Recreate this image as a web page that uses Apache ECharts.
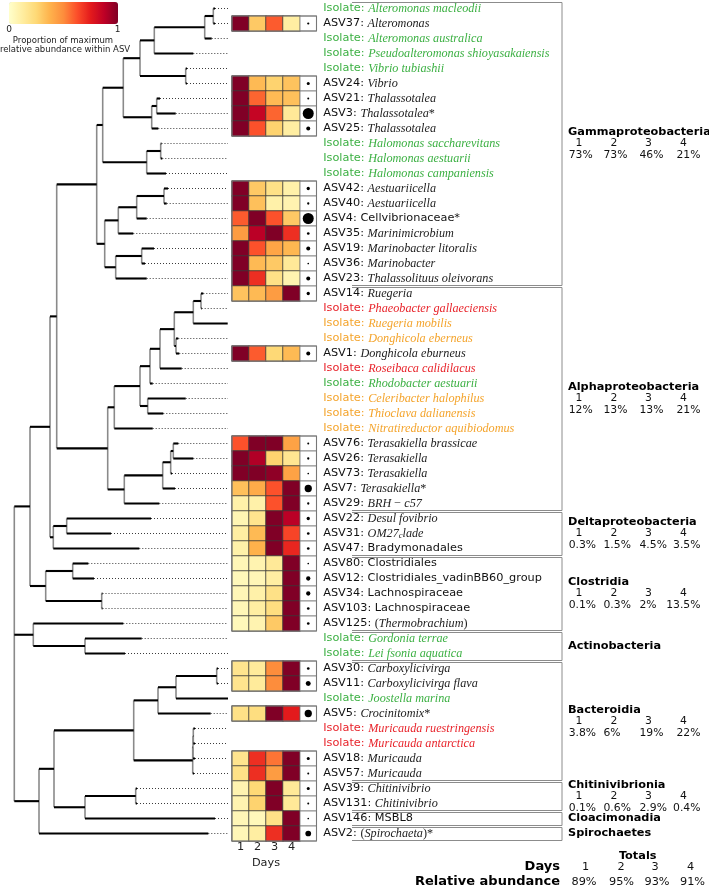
<!DOCTYPE html>
<html>
<head>
<meta charset="UTF-8">
<title></title>
<style>html,body{margin:0;padding:0;background:#fff;}</style>
</head>
<body>
<div id="chart" style="width:709px;height:888px;"></div>
<script src="https://cdn.jsdelivr.net/npm/echarts@6/dist/echarts.min.js"></script>
<script>
// ---- rows, top to bottom ----
var rowIds = ['Isolate','ASV37','Isolate','Isolate','Isolate','ASV24','ASV21','ASV3','ASV25','Isolate','Isolate','Isolate',
	'ASV42','ASV40','ASV4','ASV35','ASV19','ASV36','ASV23','ASV14','Isolate','Isolate','Isolate','ASV1','Isolate','Isolate',
	'Isolate','Isolate','Isolate','ASV76','ASV26','ASV73','ASV7','ASV29','ASV22','ASV31','ASV47','ASV80','ASV12','ASV34',
	'ASV103','ASV125','Isolate','Isolate','ASV30','ASV11','Isolate','ASV5','Isolate','Isolate','ASV18','ASV57','ASV39',
	'ASV131','ASV146','ASV2'];
var rowTaxa = ['Alteromonas macleodii','Alteromonas','Alteromonas australica','Pseudoalteromonas shioyasakaiensis',
	'Vibrio tubiashii','Vibrio','Thalassotalea','Thalassotalea*','Thalassotalea','Halomonas saccharevitans',
	'Halomonas aestuarii','Halomonas campaniensis','Aestuariicella','Aestuariicella','Cellvibrionaceae*','Marinimicrobium',
	'Marinobacter litoralis','Marinobacter','Thalassolituus oleivorans','Ruegeria','Phaeobacter gallaeciensis',
	'Ruegeria mobilis','Donghicola eberneus','Donghicola eburneus','Roseibaca calidilacus','Rhodobacter aestuarii',
	'Celeribacter halophilus','Thioclava dalianensis','Nitratireductor aquibiodomus','Terasakiella brassicae',
	'Terasakiella','Terasakiella','Terasakiella*','BRH \u2212 c57','Desul fovibrio','OM27_clade','Bradymonadales',
	'Clostridiales','Clostridiales_vadinBB60_group','Lachnospiraceae','Lachnospiraceae','(Thermobrachium)',
	'Gordonia terrae','Lei fsonia aquatica','Carboxylicivirga','Carboxylicivirga flava','Joostella marina',
	'Crocinitomix*','Muricauda ruestringensis','Muricauda antarctica','Muricauda','Muricauda','Chitinivibrio',
	'Chitinivibrio','MSBL8','(Spirochaeta)*'];
// k = ASV, g / r / o = isolate colour class
var rowKind = ['g','k','g','g','g', 'k','k','k','k', 'g','g','g', 'k','k','k','k','k','k','k','k',
	'r','o','o','k','r','g','o','o','o', 'k','k','k','k','k','k','k','k','k','k','k','k','k',
	'g','g','k','k','g','k','r','r', 'k','k','k','k','k','k'];
// names printed upright (not genus level)
var uprightTaxa = ['Cellvibrionaceae*','Bradymonadales','Clostridiales','Clostridiales_vadinBB60_group',
	'Lachnospiraceae','MSBL8'];

// ---- heatmap: proportion of max abundance per day (1..4), ASV order as in rows ----
var days = ['1','2','3','4'];
var asvHeat = [
	[1,0.3,0.6,0.12],[1,0.35,0.27,0.32],[1,0.58,0.35,0.33],[1,0.85,0.58,0.15],[1,0.62,0.27,0.12],
	[1,0.3,0.2,0.1],[1,0.33,0.1,0.08],[0.6,1,0.62,0.3],[0.45,0.88,1,0.7],[1,0.62,0.42,0.36],
	[1,0.35,0.3,0.15],[1,0.7,0.2,0.08],[0.32,0.35,0.45,1],[1,0.6,0.25,0.35],[0.62,1,1,0.43],
	[1,0.9,0.27,0.17],[1,1,0.97,0.43],[0.33,0.4,0.62,1],[0.1,0.1,0.62,1],[0.07,0.18,1,0.88],
	[0.12,0.35,1,0.65],[0.1,0.38,1,0.72],[0.06,0.08,0.15,1],[0.05,0.06,0.12,1],[0.06,0.1,0.2,1],
	[0.06,0.12,0.22,1],[0.05,0.08,0.3,1],[0.18,0.14,0.5,1],[0.18,0.14,0.5,1],[0.2,0.22,1,0.75],
	[0.18,0.7,0.55,1],[0.2,0.7,0.45,1],[0.08,0.25,1,0.15],[0.08,0.27,1,0.15],[0.06,0.05,0.2,1],
	[0.06,0.12,0.7,1]];
// mean relative abundance (%) -> dot size
var asvAbund = [0.5,0.94,0.42,12.6,1.66,1.1,0.55,12.6,0.76,1.66,0.3,1.66,1.1,1.66,0.42,0.55,0.3,5.5,0.55,1.1,
	0.76,0.76,0.3,1.9,1.9,0.76,0.76,0.76,2.6,5.5,0.94,0.42,0.94,0.42,0.3,3.4];

// ---- tree (newick, leaf name = row number) ----
var cladeGamma = '(((((((1:1.7,2:1.7):8.6,3:7):50.4,4:39):14.3,(5:1.3,6:1.3):45.7):16.7,((7:3.3,8:19):5,9:6.6):28.4):20.6,' +
	'((10:0.8,11:1.6):14,12:19.3):44):6,((((13:4,14:2.7):27.3,15:10):18.4,16:15):13.6,((17:12.3,18:3.3):26,19:31):11):8)';
var cladeAlpha = '((((((((20:2.3,21:0.7):7.7,22:34.4):19,(23:2.3,24:3.3):1.7):14.3,25:21.7):10,26:2.7):10,' +
	'(27:38,28:15.6):7.7):25.7,29:38.4):6.6,((((30:5,31:20):2.6,32:1.3):8,33:12.3):38.4,34:35):16.6)';
var cladeDelta = '((35:84.3,36:44.3):13.4,37:86)';
var cladeClostridia = '((38:15.6,39:21.3):27,(40:0.8,41:0.8):56)';
var cladeActino = '(42:90,(43:56.7,44:40):51.7)';
var cladeBact = '((((((45:1.3,46:1.3):40.7,47:52):18,48:52.7):24.3,(((49:1.7,50:1.7):0.3,51:2):0.3,52:1.3):59):79.7,' +
	'((53:1.3,54:1.3):50.7,55:130):31):15,56:169.3)';
var treeNewick = '((((' + cladeGamma + ':40,' + cladeAlpha + ':51):6.7,' + cladeDelta + ':3.3):20,' +
	cladeClostridia + ':15.7):15.7,' + cladeActino + ':19,' + cladeBact + ':24.7);';

// ---- class groups ----
var groupNames = ['Gammaproteobacteria','Alphaproteobacteria','Deltaproteobacteria','Clostridia','Actinobacteria',
	'Bacteroidia','Chitinivibrionia','Cloacimonadia','Spirochaetes'];
var groupFirst = [0,19,34,37,42,44,52,54,55];
var groupLast = [18,33,36,41,43,51,53,54,55];
var groupAbund = [[73,73,46,21],[12,13,13,21],[0.3,1.5,4.5,3.5],[0.1,0.3,2,13.5],null,[3.8,6,19,22],
	[0.1,0.6,2.9,0.4],null,null];
var totalAbund = [89,95,93,91];

var YlOrRd = ['#ffffcc','#ffeda0','#fed976','#feb24c','#fd8d3c','#fc4e2a','#e31a1c','#bd0026','#800026'];
var SANS = 'DejaVu Sans', SERIF = 'Liberation Serif';

// newick parser
function parseNewick(s) {
	var i = 0;
	function node() {
		var n = {children: [], len: 0, name: ''};
		if (s[i] === '(') {
			i++;
			n.children.push(node());
			while (s[i] === ',') { i++; n.children.push(node()); }
			i++;
		}
		var m = /^[^:,();]*/.exec(s.slice(i));
		n.name = m[0]; i += m[0].length;
		if (s[i] === ':') {
			i++;
			var m2 = /^[0-9.eE+-]+/.exec(s.slice(i));
			n.len = parseFloat(m2[0]); i += m2[0].length;
		}
		return n;
	}
	return node();
}

var tree = parseNewick(treeNewick);
var maxDepth = 0;
function place(n, px) {
	n.x = px + n.len;
	if (!n.children.length) {
		n.y = parseInt(n.name, 10) - 1;
	} else {
		n.children.forEach(function (c) { place(c, n.x); });
		n.y = (n.children[0].y + n.children[n.children.length - 1].y) / 2;
	}
	if (n.x > maxDepth) maxDepth = n.x;
}
place(tree, 0);

var segV = [], segH = [], segD = [];
function collect(n, parent) {
	if (parent) segH.push([parent.x, n.y, n.x, n.y]);
	if (n.children.length) {
		segV.push([n.x, n.children[0].y, n.x, n.children[n.children.length - 1].y]);
		n.children.forEach(function (c) { collect(c, n); });
	} else if (n.x < maxDepth - 0.5) {
		segD.push([n.x, n.y, maxDepth, n.y]);
	}
}
collect(tree, null);

// heatmap / dots data from the ASV rows
var heatData = [], dotData = [], asvRows = [];
var k = 0;
rowIds.forEach(function (id, r) {
	if (id.indexOf('ASV') === 0) {
		asvRows.push(r);
		asvHeat[k].forEach(function (v, d) { heatData.push([d, r, v]); });
		dotData.push([0, r, asvAbund[k]]);
		k++;
	}
});
// contiguous ASV blocks for the outlines
var blocks = [];
asvRows.forEach(function (r) {
	var b = blocks[blocks.length - 1];
	if (b && b[1] === r - 1) b[1] = r; else blocks.push([r, r]);
});

// rich row labels
var kindColor = {k: '#111', g: '#3cb043', r: '#e8242b', o: '#f4a42c'};
var rich = {};
Object.keys(kindColor).forEach(function (c) {
	var col = kindColor[c];
	rich[c + 's'] = {fontFamily: SANS, fontSize: 11.3, color: col, lineHeight: 14};
	rich[c + 'i'] = {fontFamily: SERIF, fontStyle: 'italic', fontSize: 12.2, color: col === '#111' ? '#222' : col, lineHeight: 14};
	rich[c + 'u'] = {fontFamily: SERIF, fontSize: 12.2, color: col === '#111' ? '#222' : col, lineHeight: 14};
	rich[c + 'b'] = {fontFamily: SERIF, fontStyle: 'italic', fontSize: 8.5, color: col === '#111' ? '#222' : col,
		lineHeight: 14, verticalAlign: 'bottom', padding: [6, 0, 0, 0]};
});
function rowLabel(i) {
	var c = rowKind[i], tx = rowTaxa[i];
	var out = '{' + c + 's|' + rowIds[i] + ': }';
	if (uprightTaxa.indexOf(tx) >= 0) return out + '{' + c + 's|' + tx + '}';
	var runs = [];
	for (var j = 0; j < tx.length; j++) {
		var ch = tx[j], st = 'i';
		if ('()*\u2212'.indexOf(ch) >= 0) st = 'u';
		else if (ch === '_') { j++; ch = tx[j]; st = 'b'; }
		var last = runs[runs.length - 1];
		if (last && last.s === st) last.t += ch; else runs.push({s: st, t: ch});
	}
	runs.forEach(function (r) { out += '{' + c + r.s + '|' + r.t + '}'; });
	return out;
}
var rowCats = rowIds.map(function (d, i) { return 'r' + i; });

var chart = echarts.init(document.getElementById('chart'), null, {renderer: 'canvas'});

function segSeries(data, style, z) {
	return {
		type: 'custom', xAxisIndex: 0, yAxisIndex: 0, z: z, silent: true,
		encode: {x: [0, 2], y: [1, 3]},
		data: data,
		renderItem: function (params, api) {
			var a = api.coord([api.value(0), api.value(1)]);
			var b = api.coord([api.value(2), api.value(3)]);
			return {type: 'line', shape: {x1: a[0], y1: a[1], x2: b[0], y2: b[1]}, style: style};
		}
	};
}

var BOX_L = 352, BOX_R = 562, DOT_W = 16.5;
var numX = [579, 614, 648.5, 683.5];

chart.setOption({
	animation: false,
	grid: [
		{left: 14.3, top: 1, width: maxDepth, height: 840},
		{left: 232, top: 1, width: 68, height: 840},
		{left: 300, top: 1, width: DOT_W, height: 840}
	],
	xAxis: [
		{gridIndex: 0, type: 'value', min: 0, max: maxDepth, show: false},
		{gridIndex: 1, type: 'category', data: days, position: 'bottom',
			axisLine: {show: false}, axisTick: {show: false}, splitLine: {show: false},
			axisLabel: {fontFamily: SANS, fontSize: 11.3, color: '#222', margin: 1},
			name: 'Days', nameLocation: 'middle', nameGap: 14,
			nameTextStyle: {fontFamily: SANS, fontSize: 11.3, color: '#222'}},
		{gridIndex: 2, type: 'category', data: [''], show: false}
	],
	yAxis: [
		{gridIndex: 0, type: 'value', min: -0.5, max: 55.5, inverse: true, show: false},
		{gridIndex: 1, type: 'category', data: rowCats, inverse: true, show: false},
		{gridIndex: 2, type: 'category', data: rowCats, inverse: true, position: 'right',
			axisLine: {show: false}, axisTick: {show: false}, splitLine: {show: false},
			axisLabel: {interval: 0, margin: 6.7, hideOverlap: false, rich: rich,
				formatter: function (v) { return rowLabel(parseInt(v.slice(1), 10)); }}}
	],
	visualMap: {
		type: 'continuous', min: 0, max: 1, seriesIndex: 3, orient: 'horizontal',
		left: 9, top: 2, itemWidth: 22, itemHeight: 109, padding: 0,
		calculable: false, hoverLink: false, realtime: false, showLabel: false,
		inRange: {color: YlOrRd}
	},
	series: [
		segSeries(segV, {stroke: '#8a8a8a', lineWidth: 1.6}, 2),
		segSeries(segH, {stroke: '#000', lineWidth: 2.1}, 3),
		segSeries(segD, {stroke: '#3c3c3c', lineWidth: 1, lineDash: [1, 2]}, 2),
		{
			type: 'heatmap', xAxisIndex: 1, yAxisIndex: 1, data: heatData, z: 2, silent: true,
			itemStyle: {borderColor: '#3a3a3a', borderWidth: 0.8},
			emphasis: {disabled: true}
		},
		{
			// white cell of the dot column
			type: 'custom', xAxisIndex: 2, yAxisIndex: 2, z: 3, silent: true,
			data: dotData.map(function (d) { return [d[0], d[1]]; }),
			encode: {x: 0, y: 1},
			renderItem: function (params, api) {
				var c = api.coord([0, api.value(1)]);
				var s = api.size([1, 1]);
				return {type: 'rect', shape: {x: c[0] - s[0] / 2, y: c[1] - s[1] / 2, width: s[0], height: s[1]},
					style: {fill: '#fff', stroke: '#7a7a7a', lineWidth: 0.8}};
			}
		},
		{
			type: 'scatter', xAxisIndex: 2, yAxisIndex: 2, z: 5, silent: true,
			data: dotData,
			symbolSize: function (v) { return 3.1 * Math.sqrt(v[2]); },
			itemStyle: {color: '#000', opacity: 1, borderWidth: 0}
		},
		{
			// outline of each contiguous ASV block
			type: 'custom', xAxisIndex: 1, yAxisIndex: 1, z: 4, silent: true,
			data: blocks.map(function (b) { return [0, b[0]]; }),
			encode: {x: 0, y: 1},
			renderItem: function (params, api) {
				var b = blocks[params.dataIndex];
				var s = api.size([1, 1]);
				var a = api.coord([0, b[0]]), e = api.coord([0, b[1]]);
				return {type: 'rect',
					shape: {x: a[0] - s[0] / 2, y: a[1] - s[1] / 2, width: s[0] * 4 + DOT_W, height: e[1] - a[1] + s[1]},
					style: {fill: 'none', stroke: '#777', lineWidth: 1.1}};
			}
		},
		{
			// class boxes and their abundance summaries
			type: 'custom', xAxisIndex: 2, yAxisIndex: 2, z: 4, silent: true,
			data: groupNames.map(function (g, i) { return [0, groupFirst[i]]; }),
			encode: {x: 0, y: 1},
			renderItem: function (params, api) {
				var gi = params.dataIndex;
				var y1 = api.coord([0, groupFirst[gi]])[1], y2 = api.coord([0, groupLast[gi]])[1];
				var top = y1 - 6, bot = y2 + 7, yc = (y1 + y2) / 2;
				var ab = groupAbund[gi];
				var ch = [{type: 'polyline',
					shape: {points: [[BOX_L, top], [BOX_R, top], [BOX_R, bot], [BOX_L, bot]]},
					style: {fill: 'none', stroke: '#8c8c8c', lineWidth: 1}}];
				ch.push({type: 'text', style: {text: groupNames[gi], x: 568, y: ab ? yc - 11 : yc,
					fontFamily: SANS, fontWeight: 'bold', fontSize: 11.3, fill: '#000', verticalAlign: 'middle'}});
				if (ab) {
					ab.forEach(function (v, d) {
						ch.push({type: 'text', style: {text: days[d], x: numX[d], y: yc, fontFamily: SANS, fontSize: 10.8,
							fill: '#111', align: 'center', verticalAlign: 'middle'}});
						var px = [568.7, 603.5, 639.5, 700.5][d];
						ch.push({type: 'text', style: {text: v + '%', x: px, y: yc + 12, fontFamily: SANS, fontSize: 10.8,
							fill: '#111', align: d === 3 ? 'right' : 'left', verticalAlign: 'middle'}});
					});
				}
				return {type: 'group', children: ch};
			}
		}
	],
	graphic: [
		{type: 'text', style: {text: '0', x: 9, y: 29.5, fontFamily: SANS, fontSize: 9, fill: '#222', align: 'center', verticalAlign: 'middle'}},
		{type: 'text', style: {text: '1', x: 117.5, y: 29.5, fontFamily: SANS, fontSize: 9, fill: '#222', align: 'center', verticalAlign: 'middle'}},
		{type: 'text', style: {text: 'Proportion of maximum', x: 63, y: 40.5, fontFamily: SANS, fontSize: 8.5, fill: '#222', align: 'center', verticalAlign: 'middle'}},
		{type: 'text', style: {text: 'relative abundance within ASV', x: 65, y: 50, fontFamily: SANS, fontSize: 8.5, fill: '#222', align: 'center', verticalAlign: 'middle'}},
		{type: 'text', style: {text: 'Totals', x: 637.7, y: 855.7, fontFamily: SANS, fontWeight: 'bold', fontSize: 11.3, fill: '#000', align: 'center', verticalAlign: 'middle'}},
		{type: 'text', style: {text: 'Days', x: 560, y: 867, fontFamily: SANS, fontWeight: 'bold', fontSize: 13, fill: '#000', align: 'right', verticalAlign: 'middle'}},
		{type: 'text', style: {text: 'Relative abundance', x: 560, y: 882, fontFamily: SANS, fontWeight: 'bold', fontSize: 13, fill: '#000', align: 'right', verticalAlign: 'middle'}}
	].concat(totalAbund.map(function (v, d) {
		return {type: 'text', style: {text: days[d], x: [585.7, 621, 655, 690.7][d], y: 867, fontFamily: SANS, fontSize: 11.3,
			fill: '#111', align: 'center', verticalAlign: 'middle'}};
	})).concat(totalAbund.map(function (v, d) {
		return {type: 'text', style: {text: v + '%', x: [584, 621.5, 657, 692.5][d], y: 882, fontFamily: SANS, fontSize: 11.3,
			fill: '#111', align: 'center', verticalAlign: 'middle'}};
	}))
});
</script>
</body>
</html>
